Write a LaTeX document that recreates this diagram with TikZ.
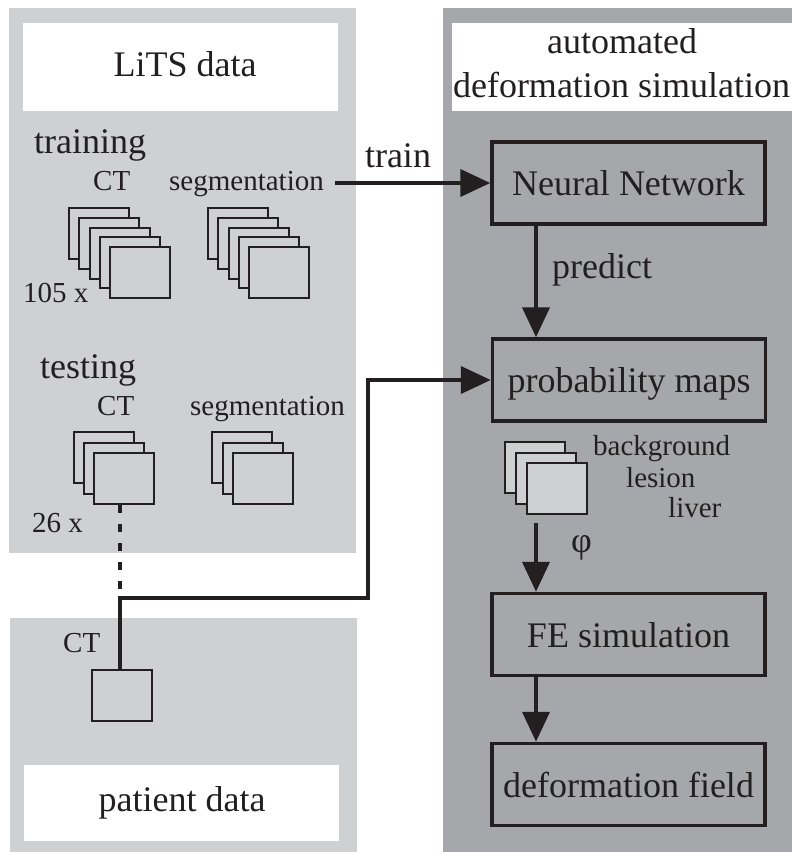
\documentclass[tikz,border=0pt]{standalone}
\usepackage{fontspec}
\setmainfont{Liberation Serif}
\usetikzlibrary{arrows.meta,calc}
\definecolor{ink}{HTML}{231F20}
\definecolor{panelA}{HTML}{CFD0D2}
\definecolor{panelB}{HTML}{A6A7AA}
\tikzset{
  txtbig/.style={font=\fontsize{36}{44}\selectfont, text=ink, inner sep=0pt, anchor=base west},
  txtsmall/.style={font=\fontsize{29}{35}\selectfont, text=ink, inner sep=0pt, anchor=base west},
  procbox/.style={draw=ink, line width=3.5pt, minimum width=273pt, minimum height=82pt, inner sep=0pt,
    text height=25pt, text depth=0pt, font=\fontsize{36}{44}\selectfont, text=ink},
  slice/.style={draw=ink, line width=2pt, fill=panelA, minimum width=60pt, minimum height=51pt, inner sep=0pt},
  flow/.style={draw=ink, line width=4pt, line join=miter, -{Triangle[length=30pt,width=27pt]}},
  link/.style={draw=ink, line width=3.3pt},
}
\begin{document}
\begin{tikzpicture}[x=1pt,y=-1pt]
\useasboundingbox (0,0) rectangle (792,852);
\fill[white] (0,0) rectangle (792,852);
% panels
\fill[panelA] (9,8) rectangle (356,553);
\fill[panelA] (10,618) rectangle (357,852);
\fill[panelB] (443,8) rectangle (792,852);
\fill[white] (23,23) rectangle (338,111);
\fill[white] (452,23) rectangle (792,111);
\fill[white] (24,765) rectangle (339,841);
% titles
\node[txtbig, anchor=base] (lits) at (185,76) {LiTS data};
\node[txtbig, anchor=base] (auto1) at (622,53) {automated};
\node[txtbig, anchor=base] (auto2) at (621.5,97) {deformation simulation};
\node[txtbig, anchor=base] (patient) at (182,811) {patient data};
% training
\node[txtbig] (training) at (34,153) {training};
\node[txtsmall] (ctA) at (93,190) {CT};
\node[txtsmall] (segA) at (169,190) {segmentation};
\foreach \i in {0,...,4} {
  \node[slice] (tc\i) at ({99+10.25*\i},{233.5+9.75*\i}) {};
}
\foreach \i in {0,...,4} {
  \node[slice] (ts\i) at ({238+10.25*\i},{233.5+9.75*\i}) {};
}
\node[txtsmall] (n105) at (23,302) {105 x};
% testing
\node[txtbig] (testing) at (40,378) {testing};
\node[txtsmall] (ctB) at (97,415) {CT};
\node[txtsmall] (segB) at (190,415) {segmentation};
\foreach \i in {0,...,2} {
  \node[slice] (tt\i) at ({104+10*\i},{457.5+10.5*\i}) {};
}
\foreach \i in {0,...,2} {
  \node[slice] (tg\i) at ({242+10.5*\i},{457.5+10.5*\i}) {};
}
\node[txtsmall] (n26) at (32,532) {26 x};
% patient
\node[txtsmall] (ctC) at (63,652) {CT};
\node[slice] (pct) at (122,695.5) {};
% process boxes
\node[procbox] (nn) at (628.5,183) {Neural Network};
\node[procbox] (prob) at (629,380) {probability maps};
\node[procbox] (fe) at (628.5,634.5) {FE simulation};
\node[procbox] (defo) at (628.5,784.5) {deformation field};
% probability stack
\foreach \i in {0,...,2} {
  \node[slice] (ps\i) at ({535+11*\i},{467.5+10.5*\i}) {};
}
\node[txtsmall] (bg) at (593,455) {background};
\node[txtsmall] (les) at (626,487) {lesion};
\node[txtsmall] (liv) at (668,517) {liver};
\node[txtbig] (phi) at (571,552) {φ};
% coordinates
\coordinate (ax) at (536,0);
\coordinate (j) at (120,598);
\coordinate (bend) at (368,598);
\coordinate (tstart) at (335,183);
% connectors
\draw[flow] (tstart) -- (nn.west);
\node[txtbig, anchor=base] (train) at (398,167) {train};
\node[txtbig] (pred) at (552,278) {predict};
\draw[flow] (nn.south -| ax) -- (prob.north -| ax);
\draw[flow] ([yshift=-8pt]ps2.south -| ax) -- (fe.north -| ax);
\draw[flow] (fe.south -| ax) -- (defo.north -| ax);
\draw[link, dash pattern=on 8pt off 11pt] (tt2.south -| j) -- (j);
\draw[flow] (pct.north -| j) -- (j) -- (bend) |- (prob.west);
\end{tikzpicture}
\end{document}
